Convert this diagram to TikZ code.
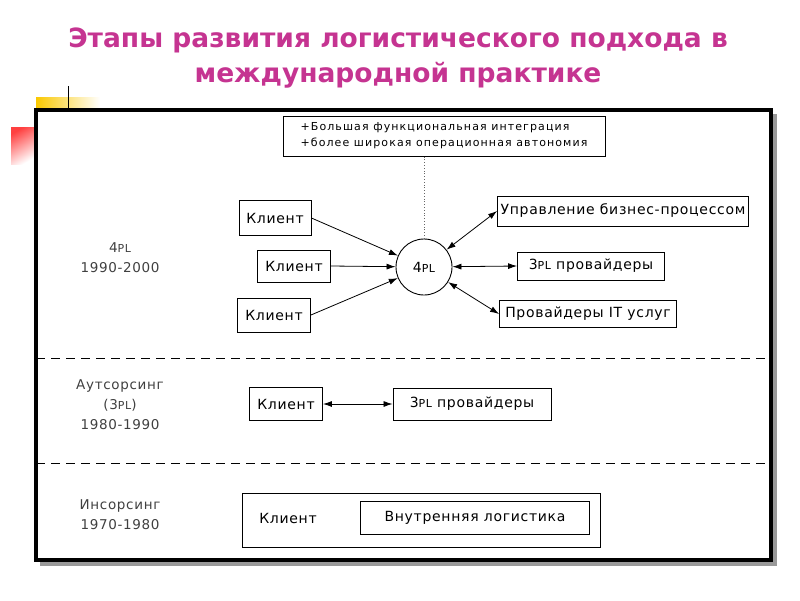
\documentclass[tikz,border=0pt]{standalone}
\usepackage{fontspec}
\setmainfont{DejaVu Sans}
\newfontfamily\boxfont[LetterSpace=5]{DejaVu Sans}
\newfontfamily\notefont[LetterSpace=10]{DejaVu Sans}
\usetikzlibrary{arrows.meta,positioning}
\definecolor{titlepink}{RGB}{197,52,145}
\definecolor{gold}{RGB}{250,200,0}
\newcommand{\pl}{{\fontsize{11}{12}\selectfont PL}}

\begin{document}
\begin{tikzpicture}[x=1pt, y=-1pt,
	box/.style = {draw, line width=0.9pt, inner sep=2pt, font=\boxfont\fontsize{14}{16}\selectfont},
	era/.style = {align=center, text=black!75, font=\boxfont\fontsize{13.5}{20}\selectfont},
	link/.style = {line width=0.8pt, -{Latex[length=9pt, width=6pt]}},
	both/.style = {line width=0.8pt, {Latex[length=9pt, width=6pt]}-{Latex[length=9pt, width=6pt]}}]
	\useasboundingbox (0,0) rectangle (800,600);
	% title
	\node [font=\bfseries\fontsize{26.5}{35}\selectfont, text=titlepink, align=center] (title) at (398,58)
		{Этапы развития логистического подхода в\\международной практике};
	% corner marks
	\shade [left color=gold, right color=white] (36,97) rectangle (100,109);
	\shade [top color=red!75, bottom color=white, shading angle=30] (11,127) rectangle (35,164);
	\draw [line width=1pt] (68,86) -- (68,110);
	% frame
	\draw [black!40, line width=4pt] (775,114) -- (775,564) -- (40,564);
	\draw [line width=4pt] (36,110) rectangle (771,560);
	\draw [line width=0.8pt, dash pattern=on 9pt off 6pt] (36,358) -- (771,358);
	\draw [line width=0.8pt, dash pattern=on 9pt off 6pt] (36,463) -- (771,463);

	% eras
	\node [era] (e1) at (120,258) {4\pl\\1990-2000};
	\node [era] (e2) at (120,405) {Аутсорсинг\\(3\pl)\\1980-1990};
	\node [era] (e3) at (120,515) {Инсорсинг\\1970-1980};

	% 4PL
	\node [box, minimum width=322, minimum height=40, align=left, font=\notefont\fontsize{11}{16}\selectfont] (note) at (444,136)
		{+Большая функциональная интеграция\\+более широкая операционная автономия};
	\node [draw, circle, line width=0.9pt, minimum size=56, font=\boxfont\fontsize{14}{16}\selectfont] (fourpl) at (424,267) {4\pl};
	\node [box, minimum width=72, minimum height=35] (k1) at (275,218) {Клиент};
	\node [box, minimum width=73, minimum height=32] (k2) at (294,266) {Клиент};
	\node [box, minimum width=73, minimum height=34] (k3) at (274,315) {Клиент};
	\node [box, minimum width=251, minimum height=30] (upr) at (623,211) {Управление бизнес-процессом};
	\node [box, minimum width=147, minimum height=28] (tpl) at (591,266) {3\pl{} провайдеры};
	\node [box, minimum width=177, minimum height=27] (it) at (588,314) {Провайдеры IT услуг};
	\draw [black!60, line width=0.8pt, dotted] (fourpl.north) -- (fourpl.north |- note.south);
	\draw [link] (k1.east) -- (fourpl);
	\draw [link] (k2.east) -- (fourpl);
	\draw [link] (k3.east) -- (fourpl);
	\draw [both] (fourpl) -- (upr.west);
	\draw [both] (fourpl) -- (tpl.west);
	\draw [both] (fourpl) -- (it.west);

	% 3PL
	\node [box, minimum width=73, minimum height=33] (k4) at (286,404) {Клиент};
	\node [box, minimum width=158, minimum height=32] (tpl2) at (472,404) {3\pl{} провайдеры};
	\draw [both] (k4) -- (tpl2);

	% insourcing
	\node [box, minimum width=358, minimum height=54] (ins) at (421,520) {};
	\node [font=\boxfont\fontsize{14}{16}\selectfont] (k5) at (288,518) {Клиент};
	\node [box, minimum width=229, minimum height=33] (vn) at (475,518) {Внутренняя логистика};
\end{tikzpicture}
\end{document}
